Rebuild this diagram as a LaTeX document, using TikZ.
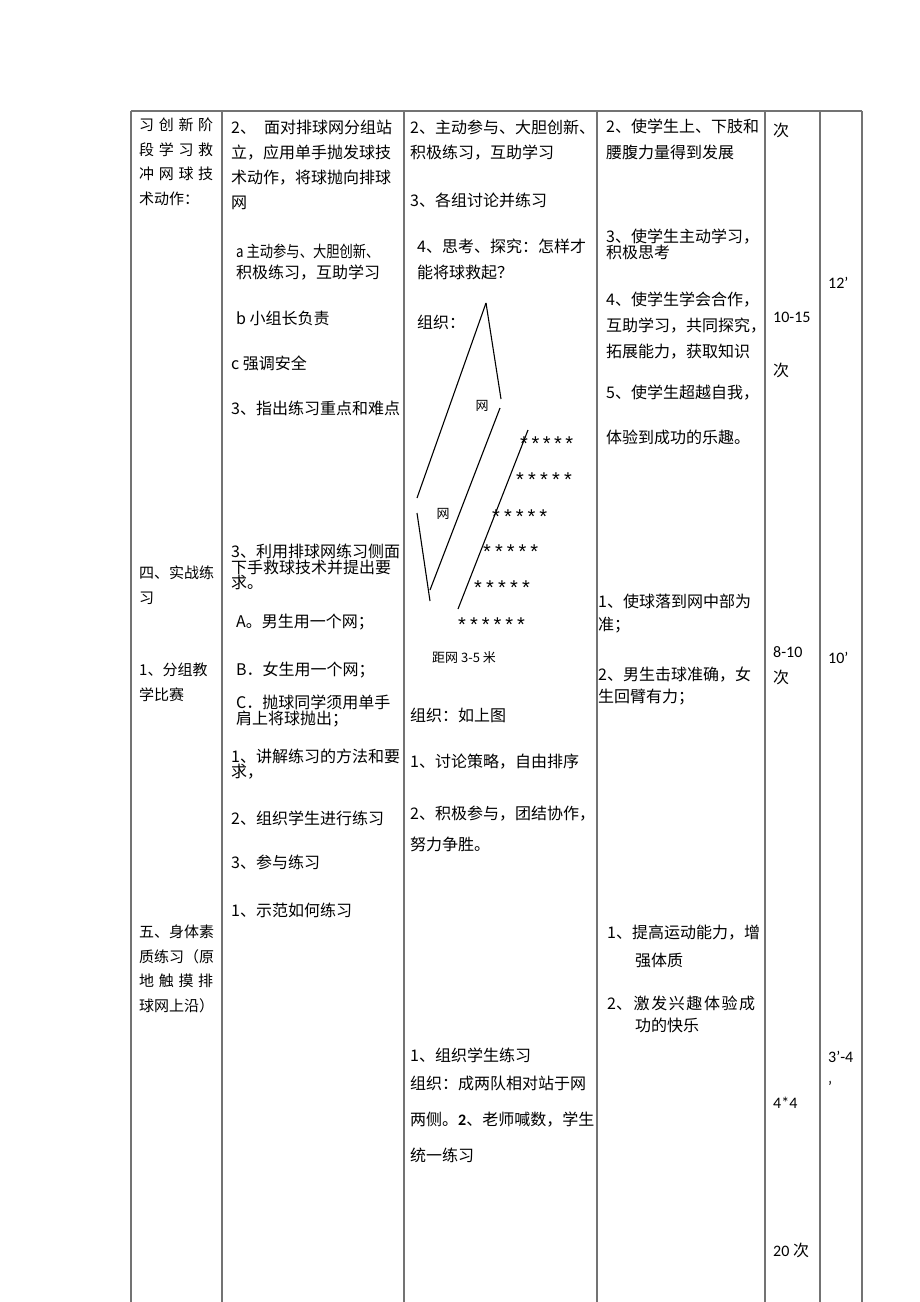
\documentclass[tikz,border=0pt]{standalone}
\usepackage{fontspec}
\setmainfont{Noto Sans CJK SC}
\newfontfamily\numfont{Carlito}
\newfontfamily\starfont{Liberation Sans}
\usetikzlibrary{positioning}

\begin{document}
\begin{tikzpicture}[x=1pt, y=-1pt,
    rule/.style={draw=black!55, line width=1.3pt},
    net/.style={line width=1.1pt},
    txt/.style={anchor=west, inner sep=0pt, font=\fontsize{16}{25}\selectfont},
    para/.style={anchor=north west, inner sep=0pt, align=left, font=\fontsize{16}{25}\selectfont},
    side/.style={para, font=\fontsize{15}{24.5}\selectfont},
    num/.style={anchor=west, inner sep=0pt, font=\numfont\fontsize{16}{25}\selectfont},
    small/.style={inner sep=0pt, font=\fontsize{13}{13}\selectfont},
    stars/.style={anchor=base west, inner sep=0pt, font=\starfont\fontsize{20}{20}\selectfont}
]
    \useasboundingbox (0,0) rectangle (920,1302);

    % Table rules
    \draw[rule] (131,111) -- (862,111);
    \foreach \x in {131,222,404,597,765,820,862}
        \draw[rule] (\x,111) -- (\x,1302);

    % Stage column
    \node[side] (stage1) at (139,118) {\makebox[74pt][s]{习 创 新 阶}\\\makebox[74pt][s]{段 学 习 救}\\\makebox[74pt][s]{冲 网 球 技}\\术动作：};
    \node[side] (stage4) at (139,566) {四、实战练\\习};
    \node[side] (stage4a) at (139,663) {1、分组教\\学比赛};
    \node[side] (stage5) at (139,925) {五、身体素\\质练习（原\\\makebox[74pt][s]{地 触 摸 排}\\球网上沿）};

    % Teacher column
    \node[para] (teach2) at (231,120) {\makebox[161pt][s]{2、 面对排球网分组站}\\立，应用单手抛发球技\\术动作，将球抛向排球\\网};
    \node[para, font=\fontsize{16}{21}\selectfont] (teach2a) at (236,244) {\scalebox{0.83}[1]{a 主动参与、大胆创新、}\\积极练习，互助学习};
    \node[txt] (teach2b) at (236,318) {b 小组长负责};
    \node[txt] (teach2c) at (231,363) {c 强调安全};
    \node[txt] (teach3) at (231,408) {3、指出练习重点和难点};
    \node[para, font=\fontsize{16}{15.5}\selectfont] (teach4) at (231,544) {3、利用排球网练习侧面\\下手救球技术并提出要\\求。};
    \node[txt] (teach4a) at (236,622) {A。男生用一个网；};
    \node[txt] (teach4b) at (236,670) {B．女生用一个网；};
    \node[para, font=\fontsize{16}{16}\selectfont] (teach4c) at (236,695) {C．抛球同学须用单手\\肩上将球抛出；};
    \node[para, font=\fontsize{16}{15}\selectfont] (teach5) at (231,749) {1、讲解练习的方法和要\\求，};
    \node[txt] (teach6) at (231,818) {2、组织学生进行练习};
    \node[txt] (teach7) at (231,862) {3、参与练习};
    \node[txt] (teach8) at (231,910) {1、示范如何练习};

    % Student column
    \node[para] (learn2) at (410,120) {2、主动参与、大胆创新、\\积极练习，互助学习};
    \node[txt] (learn3) at (410,200) {3、各组讨论并练习};
    \node[para, font=\fontsize{16}{26}\selectfont] (learn4) at (417,239) {4、思考、探究：怎样才\\能将球救起？};
    \node[txt] (org) at (417,322) {组织：};

    % Net sketch
    \coordinate (apex) at (486,303);
    \draw[net] (apex) -- (417,498);
    \draw[net] (apex) -- (501,399);
    \draw[net] (500,408) -- (430,590);
    \draw[net] (417,513) -- (430,601);
    \draw[net] (528,430) -- (458,609);
    \node[small] (net1) at (482,406) {网};
    \node[small] (net2) at (443,514) {网};
    \node[stars] (row1) at (520,450) {\makebox[53pt][s]{*\hfil*\hfil*\hfil*\hfil*}};
    \node[stars] (row2) at (516,486) {\makebox[55.8pt][s]{*\hfil*\hfil*\hfil*\hfil*}};
    \node[stars] (row3) at (492,523) {\makebox[55pt][s]{*\hfil*\hfil*\hfil*\hfil*}};
    \node[stars] (row4) at (483,558) {\makebox[55pt][s]{*\hfil*\hfil*\hfil*\hfil*}};
    \node[stars] (row5) at (474,594) {\makebox[55.8pt][s]{*\hfil*\hfil*\hfil*\hfil*}};
    \node[stars] (row6) at (458,631) {\makebox[66.8pt][s]{*\hfil*\hfil*\hfil*\hfil*\hfil*}};
    \node[small, anchor=west] (dist) at (432,658) {距网 3-5 米};

    \node[txt] (orgnote) at (410,715) {组织：如上图};
    \node[txt] (learn5) at (410,762) {1、讨论策略，自由排序};
    \node[para, font=\fontsize{16}{31}\selectfont] (learn6) at (410,806) {2、积极参与，团结协作，\\努力争胜。};
    \node[txt] (learn7) at (410,1055) {1、组织学生练习};
    \node[txt] (learn7a) at (410,1083) {组织：成两队相对站于网};
    \node[txt] (learn7b) at (410,1120) {两侧。{\numfont\bfseries 2}、老师喊数，学生};
    \node[txt] (learn7c) at (410,1155) {统一练习};

    % Aim column
    \node[para, font=\fontsize{16}{26}\selectfont] (aim2) at (606,119) {2、使学生上、下肢和\\腰腹力量得到发展};
    \node[para, font=\fontsize{16}{16}\selectfont] (aim3) at (606,229) {3、使学生主动学习，\\积极思考};
    \node[para, font=\fontsize{16}{26}\selectfont] (aim4) at (606,292) {4、使学生学会合作，\\互助学习，共同探究，\\拓展能力，获取知识};
    \node[txt] (aim5) at (606,393) {5、使学生超越自我，};
    \node[txt] (aim5a) at (606,437) {体验到成功的乐趣。};
    \node[para, font=\fontsize{16}{23}\selectfont] (aim6) at (598,594) {1、使球落到网中部为\\准；};
    \node[para, font=\fontsize{16}{22}\selectfont] (aim7) at (598,667) {2、男生击球准确，女\\生回臂有力；};
    \node[txt] (aim8) at (607,933) {1、提高运动能力，增};
    \node[txt] (aim8a) at (635,960) {强体质};
    \node[txt] (aim9) at (607,1003) {\makebox[148pt][s]{2、\hfil 激\hfil 发\hfil 兴\hfil 趣\hfil 体\hfil 验\hfil 成}};
    \node[txt] (aim9a) at (635,1025) {功的快乐};

    % Count column
    \node[txt] (reps1) at (773,130) {次};
    \node[num] (reps2) at (773,317) {10-15};
    \node[txt] (reps2a) at (773,370) {次};
    \node[num] (reps3) at (773,652) {8-10};
    \node[txt] (reps3a) at (773,677) {次};
    \node[num] (reps4) at (773,1103) {4*4};
    \node[num] (reps5) at (773,1250) {20 {\rmfamily 次}};

    % Time column
    \node[num] (mins1) at (828,283) {12’};
    \node[num] (mins2) at (828,658) {10’};
    \node[num] (mins3) at (828,1057) {3’-4};
    \node[num] (mins3a) at (828,1087) {’};
\end{tikzpicture}
\end{document}
